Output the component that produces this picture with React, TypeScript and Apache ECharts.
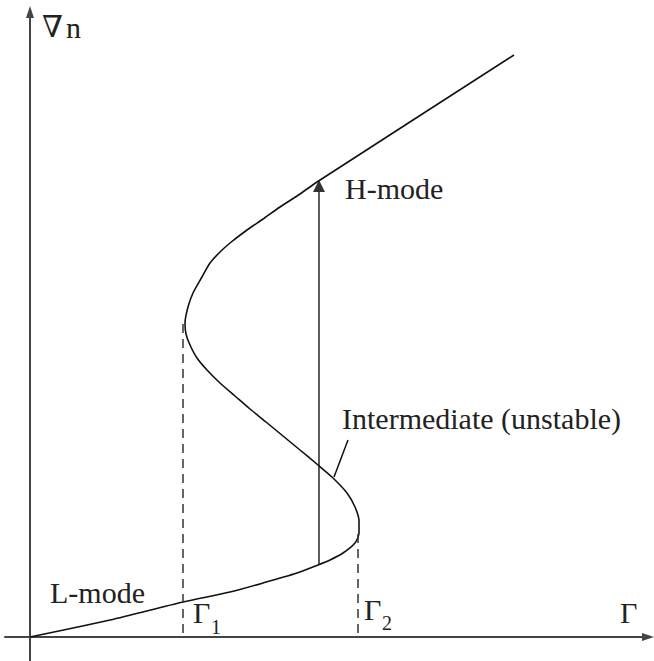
import React, { useEffect, useRef } from "react";
import * as echarts from "echarts";

// S-curve of density gradient vs particle flux (x = Γ, y = ∇n)
const sCurve: [number, number][] = [
  [0, 0], [80, 17], [153, 35], [200, 45], [233, 54], [267, 64], [288, 72],
  [300, 77], [313, 84], [325, 94], [329, 104], [329, 116], [325, 130],
  [317, 144], [303, 159], [288, 172], [270, 187], [253, 201], [236, 215],
  [220, 228], [205, 241], [190, 254], [177, 267], [167, 279], [160, 292],
  [156, 303], [155, 314], [158, 330], [163, 344], [172, 360], [180, 374],
  [190, 385], [200, 394], [217, 407], [233, 418], [250, 430], [270, 443],
  [287, 455], [484, 582],
];
// thresholds Γ1 and Γ2 (dashed drop lines)
const gamma1Line: [number, number][] = [[153, 4], [153, 314]];
const gamma2Line: [number, number][] = [[328, 4], [328, 108]];
// L -> H transition arrow
const transitionArrow: [number, number][] = [[289, 72], [289, 451]];
// pointer to the unstable branch
const pointerLine: [number, number][] = [[318, 197], [304, 160]];

const xRange = [-25, 618];
const yRange = [-24, 625];

const FONT = "'Liberation Serif', 'DejaVu Serif', serif";
const INK = "#222";

export default function App() {
  const ref = useRef<HTMLDivElement>(null);
  useEffect(() => {
    document.body.style.margin = "0";
    const chart = echarts.init(ref.current!, undefined, { renderer: "svg" });
    const axisCommon = {
      type: "value" as const,
      axisLine: {
        onZero: true,
        symbol: ["none", "triangle"],
        symbolSize: [8, 12],
        lineStyle: { color: "#444", width: 2 },
      },
      axisTick: { show: false },
      axisLabel: { show: false },
      splitLine: { show: false },
    };
    const txt = (text: string, x: number, y: number, size = 30, family = FONT) => ({
      type: "text",
      x,
      y,
      style: {
        text,
        fontFamily: family,
        fontSize: size,
        fill: INK,
        verticalAlign: "middle",
        align: "left",
      },
    });
    chart.setOption({
      animation: false,
      grid: { left: 5, right: 6, top: 12, bottom: 0 },
      xAxis: { ...axisCommon, min: xRange[0], max: xRange[1] },
      yAxis: { ...axisCommon, min: yRange[0], max: yRange[1] },
      series: [
        {
          type: "line",
          data: sCurve,
          smooth: 0.25,
          showSymbol: false,
          lineStyle: { color: "#111", width: 1.6 },
        },
        {
          type: "line",
          data: gamma1Line,
          showSymbol: false,
          lineStyle: { color: "#333", width: 1.5, type: [9, 6] },
        },
        {
          type: "line",
          data: gamma2Line,
          showSymbol: false,
          lineStyle: { color: "#333", width: 1.5, type: [9, 6] },
        },
        {
          type: "line",
          data: pointerLine,
          showSymbol: false,
          lineStyle: { color: "#111", width: 1.5 },
        },
        {
          type: "lines",
          coordinateSystem: "cartesian2d",
          symbol: ["none", "triangle"],
          symbolSize: [8, 12],
          data: [{ coords: transitionArrow }],
          lineStyle: { color: "#333", width: 1.6, opacity: 1 },
        },
      ],
      graphic: [
        txt("∇", 42, 26, 30, "'DejaVu Serif', serif"),
        txt("n", 66, 27),
        txt("H-mode", 345, 188),
        txt("L-mode", 50, 592),
        txt("Intermediate (unstable)", 342, 418),
        txt("Γ", 193, 612),
        txt("1", 211, 627, 20),
        txt("Γ", 364, 609),
        txt("2", 382, 623, 20),
        txt("Γ", 620, 612),
      ],
    });
    return () => chart.dispose();
  }, []);
  return <div ref={ref} style={{ width: 654, height: 661 }} />;
}
